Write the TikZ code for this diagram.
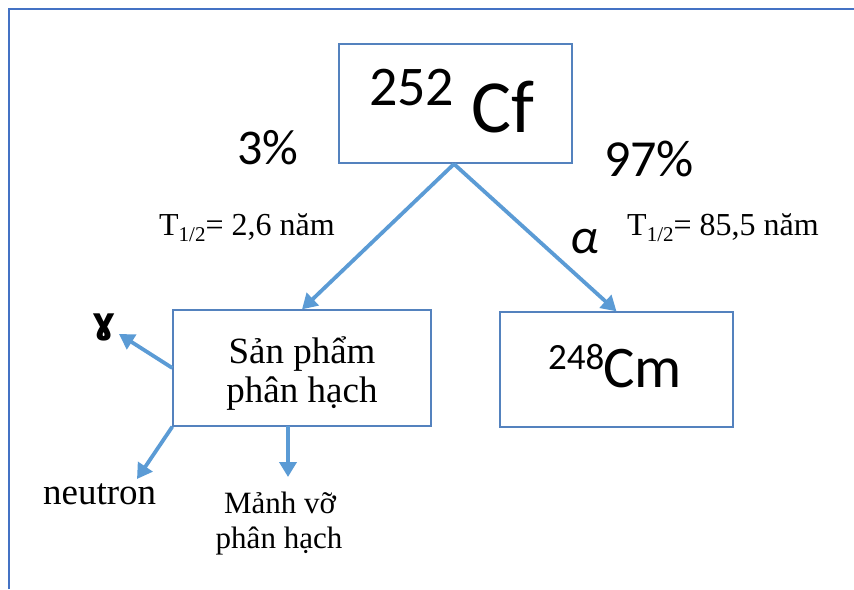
\documentclass[tikz,border=0pt]{standalone}
\usepackage{fontspec}
\setmainfont{Liberation Serif}
\newfontfamily\calib{Carlito}
\newfontfamily\dejavu{DejaVu Sans}
\usetikzlibrary{arrows.meta,calc}
\definecolor{framecol}{RGB}{68,114,196}
\definecolor{boxcol}{RGB}{84,130,190}
\definecolor{arrcol}{RGB}{91,155,213}
\newcommand{\fs}[1]{\fontsize{#1}{1.1\dimexpr #1pt\relax}\selectfont}
\tikzset{
  box/.style={draw=boxcol, line width=1.3pt, inner sep=0pt},
  arr/.style={draw=arrcol, line width=3.8pt, -{Triangle[length=15pt,width=17pt]}},
  txt/.style={inner sep=0pt, anchor=base west},
  ctxt/.style={inner sep=0pt, anchor=base},
}
\begin{document}
\begin{tikzpicture}[x=1pt,y=-1pt]
\useasboundingbox (0,0) rectangle (854,589);
% frame lines
\draw[framecol, line width=2.2pt] (9,589) -- (9,9) -- (854,9);

% boxes
\node[box, minimum width=233pt, minimum height=119pt] (cf) at (455.5,103.5) {};
\node[box, minimum width=258pt, minimum height=116pt] (sp) at (302,368) {};
\node[box, minimum width=233pt, minimum height=115pt] (cm) at (616.5,369.5) {};

% box texts
\node[txt] (cfmass) at (369,105) {\calib\fs{56}252};
\node[txt] (cfsym) at (471,132) {\calib\fs{75}Cf};
\node[txt] (cmmass) at (548,369) {\calib\fs{37}248};
\node[txt] (cmsym) at (603,387) {\calib\fs{59}Cm};
\node[ctxt] (sp1) at (302,363) {\fs{37}Sản phẩm};
\node[ctxt] (sp2) at (302,402) {\fs{37}phân hạch};

% branch labels
\node[txt] (p3) at (237,164) {\calib\fs{50}3\%};
\node[txt] (p97) at (604,176) {\calib\fs{52}97\%};
\node[txt] (tl) at (159,235) {\fs{32}T{\fs{21}\raisebox{-6pt}{1/2}}= 2,6 năm};
\node[txt] (tr) at (627,235) {\fs{32}T{\fs{21}\raisebox{-6pt}{1/2}}= 85,5 năm};
\node[txt] (alpha) at (570,253) {\calib\itshape\fs{50}α};

% products
\node[txt] (gam) at (92,333) {\dejavu\bfseries\fs{36}ɣ};
\node[txt] (neu) at (43,504) {\fs{37}neutron};
\node[ctxt] (fr1) at (280,513) {\fs{31}Mảnh vỡ};
\node[ctxt] (fr2) at (279,548) {\fs{31}phân hạch};

% arrow tips
\coordinate (gtip) at (119,334);
\coordinate (ntip) at (137,479);
\coordinate (fstart) at (288,426);
\coordinate (ftip) at (288,477);
\coordinate (apex) at (454,164);

\draw[arr] (apex) -- (sp.north);
\draw[arr] (apex) -- (cm.north);
\draw[arr] (sp.west) -- (gtip);
\draw[arr] (sp.south west) -- (ntip);
\draw[arr] (fstart) -- (ftip);
\end{tikzpicture}
\end{document}
